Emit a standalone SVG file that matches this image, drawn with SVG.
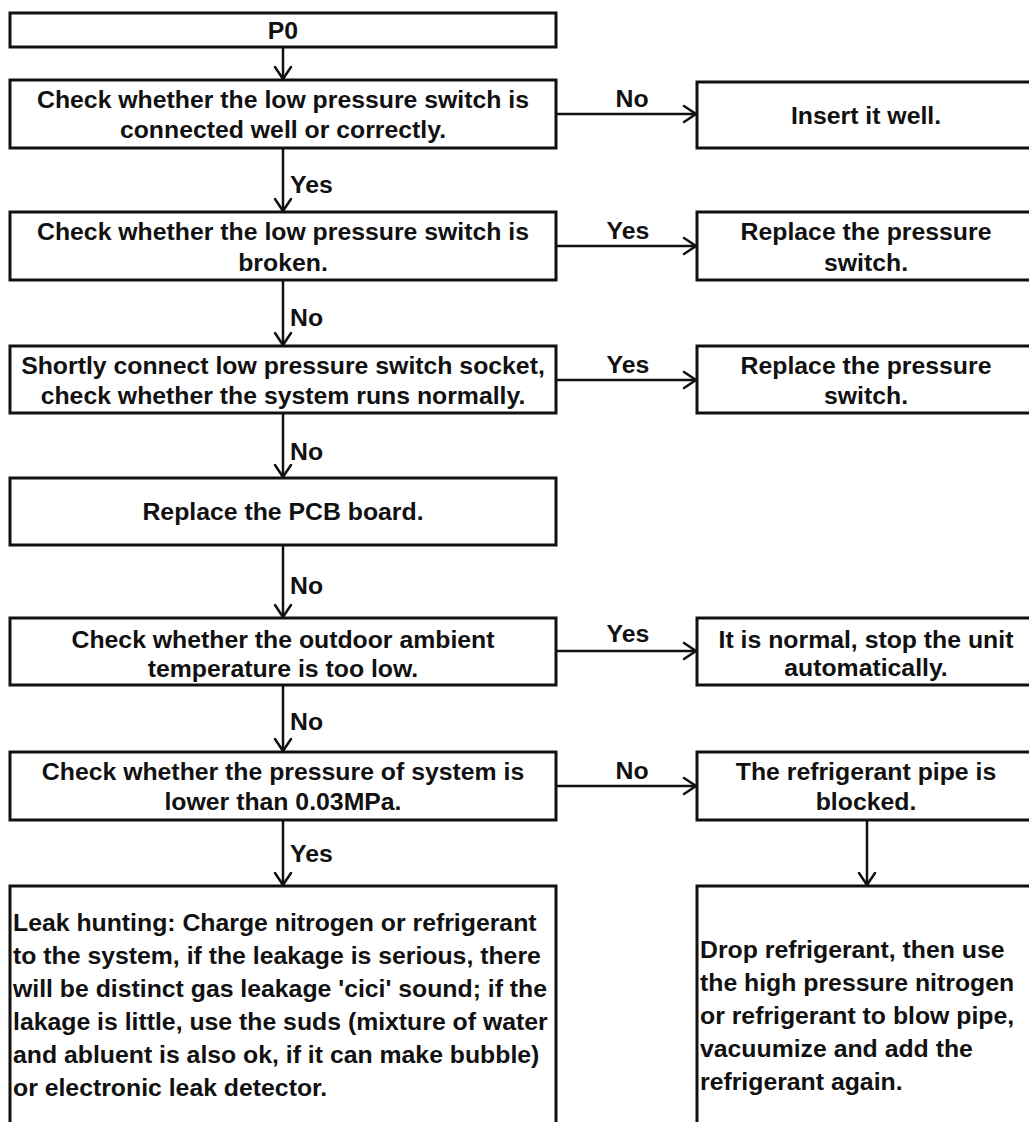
<svg xmlns="http://www.w3.org/2000/svg" width="1029" height="1122" viewBox="0 0 1029 1122">
<defs>
<style>
.box{fill:#fff;stroke:#111;stroke-width:3}
.ln{fill:none;stroke:#111;stroke-width:2.5}
.hd{fill:none;stroke:#111;stroke-width:2.5;stroke-linecap:round;stroke-linejoin:miter}
text{font-family:"Liberation Sans",Arial,sans-serif;font-weight:bold;font-size:24.8px;fill:#111}
.c{text-anchor:middle}
</style>
</defs>
<rect width="1029" height="1122" fill="#fff"/>
<g id="connectors">
<line class="ln" x1="283" y1="47" x2="283" y2="80"/><polyline class="hd" points="275,67 283,79 291,67"/>
<line class="ln" x1="283" y1="148" x2="283" y2="212"/><polyline class="hd" points="275,199 283,211 291,199"/>
<text x="290" y="193">Yes</text>
<line class="ln" x1="556" y1="114" x2="697" y2="114"/><polyline class="hd" points="684,106 696,114 684,122"/>
<text x="632" y="107" class="c">No</text>
<line class="ln" x1="283" y1="280" x2="283" y2="346"/><polyline class="hd" points="275,333 283,345 291,333"/>
<text x="290" y="326">No</text>
<line class="ln" x1="556" y1="246" x2="697" y2="246"/><polyline class="hd" points="684,238 696,246 684,254"/>
<text x="628" y="239" class="c">Yes</text>
<line class="ln" x1="283" y1="413" x2="283" y2="478"/><polyline class="hd" points="275,465 283,477 291,465"/>
<text x="290" y="460">No</text>
<line class="ln" x1="556" y1="380" x2="697" y2="380"/><polyline class="hd" points="684,372 696,380 684,388"/>
<text x="628" y="373" class="c">Yes</text>
<line class="ln" x1="283" y1="545" x2="283" y2="618"/><polyline class="hd" points="275,605 283,617 291,605"/>
<text x="290" y="594">No</text>
<line class="ln" x1="556" y1="651" x2="697" y2="651"/><polyline class="hd" points="684,643 696,651 684,659"/>
<text x="628" y="642" class="c">Yes</text>
<line class="ln" x1="283" y1="685" x2="283" y2="752"/><polyline class="hd" points="275,739 283,751 291,739"/>
<text x="290" y="730">No</text>
<line class="ln" x1="556" y1="786" x2="697" y2="786"/><polyline class="hd" points="684,778 696,786 684,794"/>
<text x="632" y="779" class="c">No</text>
<line class="ln" x1="283" y1="820" x2="283" y2="886"/><polyline class="hd" points="275,873 283,885 291,873"/>
<text x="290" y="862">Yes</text>
<line class="ln" x1="867" y1="820" x2="867" y2="886"/><polyline class="hd" points="859,873 867,885 875,873"/>
</g>
<g id="p0"><rect class="box" x="10" y="13" width="546" height="34"/><text x="283" y="39" class="c">P0</text></g>
<g id="check-connected"><rect class="box" x="10" y="80" width="546" height="68"/><text x="283" y="108" class="c">Check whether the low pressure switch is</text><text x="283" y="138" class="c">connected well or correctly.</text></g>
<g id="insert"><rect class="box" x="697" y="82" width="340" height="66"/><text x="866" y="124" class="c">Insert it well.</text></g>
<g id="check-broken"><rect class="box" x="10" y="212" width="546" height="68"/><text x="283" y="240" class="c">Check whether the low pressure switch is</text><text x="283" y="271" class="c">broken.</text></g>
<g id="replace1"><rect class="box" x="697" y="212" width="340" height="68"/><text x="866" y="240" class="c">Replace the pressure</text><text x="866" y="271" class="c">switch.</text></g>
<g id="short-connect"><rect class="box" x="10" y="346" width="546" height="67"/><text x="283" y="374" class="c">Shortly connect low pressure switch socket,</text><text x="283" y="404" class="c">check whether the system runs normally.</text></g>
<g id="replace2"><rect class="box" x="697" y="346" width="340" height="67"/><text x="866" y="374" class="c">Replace the pressure</text><text x="866" y="404" class="c">switch.</text></g>
<g id="pcb"><rect class="box" x="10" y="478" width="546" height="67"/><text x="283" y="520" class="c">Replace the PCB board.</text></g>
<g id="check-ambient"><rect class="box" x="10" y="618" width="546" height="67"/><text x="283" y="648" class="c">Check whether the outdoor ambient</text><text x="283" y="677" class="c">temperature is too low.</text></g>
<g id="normal"><rect class="box" x="697" y="618" width="340" height="67"/><text x="866" y="648" class="c">It is normal, stop the unit</text><text x="866" y="676" class="c">automatically.</text></g>
<g id="check-pressure"><rect class="box" x="10" y="752" width="546" height="68"/><text x="283" y="780" class="c">Check whether the pressure of system is</text><text x="283" y="810" class="c">lower than 0.03MPa.</text></g>
<g id="blocked"><rect class="box" x="697" y="752" width="340" height="68"/><text x="866" y="780" class="c">The refrigerant pipe is</text><text x="866" y="810" class="c">blocked.</text></g>
<g id="leak"><rect class="box" x="10" y="886" width="546" height="250"/>
<text x="13" y="931">Leak hunting: Charge nitrogen or refrigerant</text>
<text x="13" y="964">to the system, if the leakage is serious, there</text>
<text x="13" y="997">will be distinct gas leakage 'cici' sound; if the</text>
<text x="13" y="1030">lakage is little, use the suds (mixture of water</text>
<text x="13" y="1063">and abluent is also ok, if it can make bubble)</text>
<text x="13" y="1096">or electronic leak detector.</text></g>
<g id="drop"><rect class="box" x="697" y="886" width="340" height="250"/>
<text x="700" y="958">Drop refrigerant, then use</text>
<text x="700" y="991">the high pressure nitrogen</text>
<text x="700" y="1024">or refrigerant to blow pipe,</text>
<text x="700" y="1057">vacuumize and add the</text>
<text x="700" y="1090">refrigerant again.</text></g>
</svg>
